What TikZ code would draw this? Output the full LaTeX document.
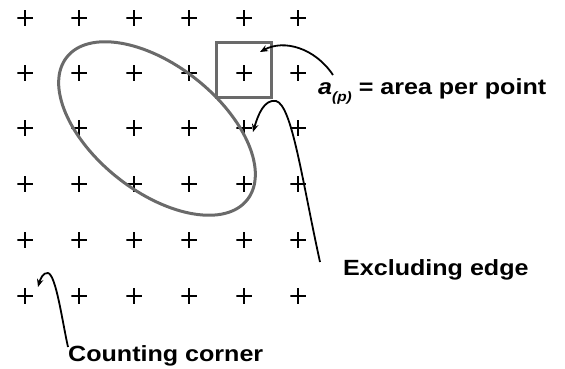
\documentclass[tikz,border=0pt]{standalone}
\usepackage{fontspec}
\setmainfont{Liberation Sans}
\usetikzlibrary{arrows.meta,shapes.geometric}
\definecolor{edgegray}{HTML}{6A6A6A}
\tikzset{
  pt/.style={minimum size=15.5pt, inner sep=0pt, outer sep=0pt,
    path picture={\draw[line width=#1]
      (path picture bounding box.north) -- (path picture bounding box.south)
      (path picture bounding box.west) -- (path picture bounding box.east);}},
  pt/.default=2.3pt,
  lbl/.style={inner sep=0pt, anchor=base west, font=\fontsize{22}{26}\selectfont\bfseries},
  conn/.style={line width=1.8pt, -{Stealth[length=8pt,width=6.5pt]}},
  grayline/.style={draw=edgegray, line width=3pt}
}
\newcommand{\wide}[1]{\scalebox{1.14}[1]{#1}}
\begin{document}
\begin{tikzpicture}[x=1pt,y=-1pt]
\useasboundingbox (0,0) rectangle (565,369);
% grid of points
\foreach \r/\yy/\w in {1/18/2.3pt,2/73/2.3pt,3/128/2pt,4/184/2pt,5/240/2.4pt,6/296/1.9pt}{
  \foreach \c/\xx in {1/25,2/79,3/134,4/189,5/244,6/298}{
    \node[pt=\w] (p\r\c) at (\xx,\yy) {};
  }
}
% area per point cell and region
\node[grayline, minimum size=55pt, inner sep=0pt] (cell) at (243.5,70) {};
\node[grayline, ellipse, rotate=-38.3, minimum width=230pt, minimum height=126pt, inner sep=0pt] (region) at (157,128.5) {};
% labels
\node[lbl] (lap) at (318,95) {\wide{\textit{a}\raisebox{-6pt}{\fontsize{13.5}{13.5}\selectfont\itshape(p)} = area per point}};
\node[lbl] (lexc) at (343,275) {\wide{Excluding edge}};
\node[lbl] (lcnt) at (68,361) {\wide{Counting corner}};
% connector ends
\coordinate (s1) at (333,75);
\coordinate (t1) at (260,52);
\coordinate (s2) at (320,262);
\coordinate (t2) at (253,132);
\coordinate (s3) at (68,347);
\coordinate (t3) at (38,287);
\draw[conn] (s1) .. controls (315,48) and (284,39) .. (t1);
\draw[conn] (s2) .. controls (302,180) and (292,105) .. (276,101) .. controls (264,99) and (258,115) .. (t2);
\draw[conn] (s3) .. controls (62,320) and (56,275) .. (48,273) .. controls (43,272) and (40,280) .. (t3);
\end{tikzpicture}
\end{document}
